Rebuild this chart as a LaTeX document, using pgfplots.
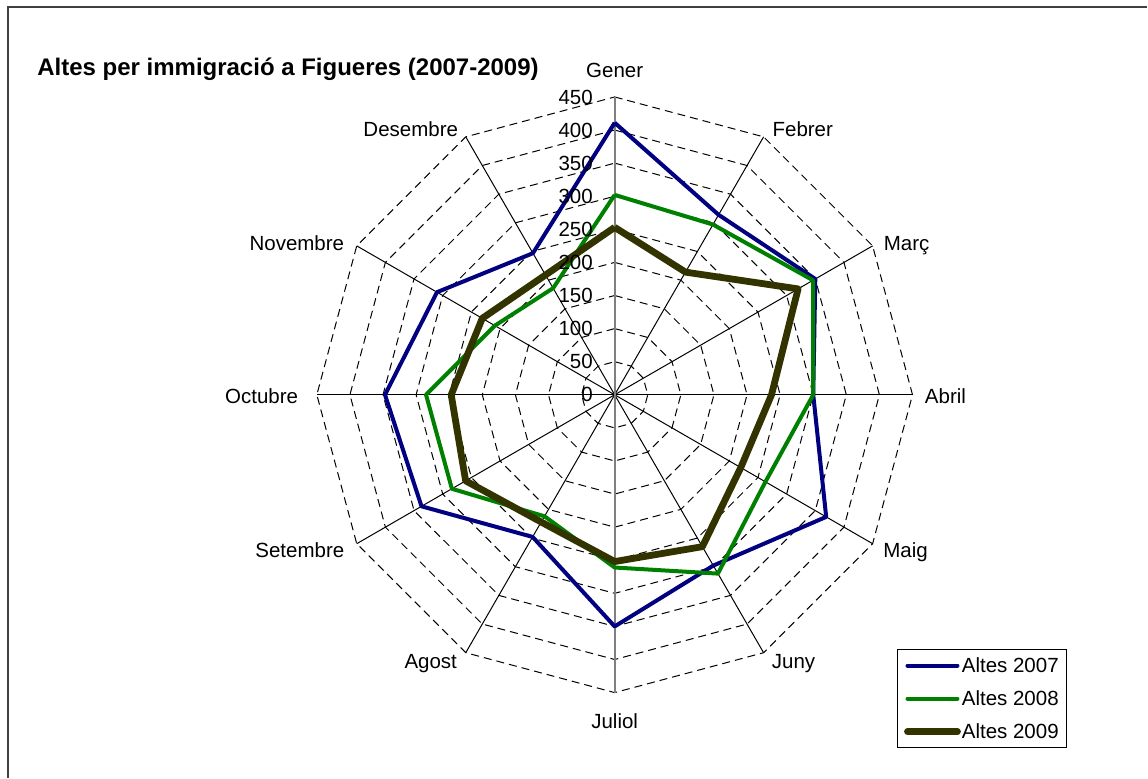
\documentclass[border=0pt]{standalone}
\usepackage{fontspec}
\setmainfont{Liberation Sans}
\usepackage{pgfplots}
\pgfplotsset{compat=1.18}
\usepgfplotslibrary{polar}
\definecolor{c07}{RGB}{0,0,128}
\definecolor{c08}{RGB}{0,128,0}
\definecolor{c09}{RGB}{51,51,0}
\newcommand{\lbl}{\fontsize{10.25}{12}\selectfont}
\begin{document}
\begin{tikzpicture}
\begin{axis}[
  width=574pt, height=389pt, scale only axis,
  xmin=-928.7, xmax=804.9, ymin=-578.4, ymax=596.5,
  hide axis, clip=false,
  legend cell align=left,
  legend image code/.code={\draw[#1, line cap=round] (0pt,0pt) -- (25pt,0pt);},
  legend style={at={(rel axis cs:0.7814,0.1658)}, anchor=north west,
    draw=black, line width=0.5pt, font=\lbl,
    inner xsep=3.5pt, inner ysep=4pt, row sep=8.1pt,
    nodes={inner sep=0.5pt, text height=7.4pt, text depth=0pt}},
]
% frame and bounding box
\path (rel axis cs:0,0) rectangle (rel axis cs:1,1);
\draw[black!75, line width=0.6pt] (axis cs:-916.6,-578.4) -- (axis cs:-916.6,585.9) -- (axis cs:804.9,585.9);
% dashed polygon grid
\pgfplotsinvokeforeach{50,100,150,200,250,300,350,400,450}{
  \addplot[forget plot, black, line width=0.5pt, dash pattern=on 4pt off 2.5pt, data cs=polar]
    coordinates {(90,#1)(60,#1)(30,#1)(0,#1)(-30,#1)(-60,#1)(-90,#1)(-120,#1)(-150,#1)(-180,#1)(-210,#1)(-240,#1)(-270,#1)};
}
% spokes
\pgfplotsinvokeforeach{60,30,0,-30,-60,-120,-150,-180,-210,-240}{
  \addplot[forget plot, black, line width=0.5pt, data cs=polar] coordinates {(#1,0)(#1,450)};
}
\addplot[forget plot, black!50, line width=0.9pt] coordinates {(0,-450)(0,450)};
% data
\addplot[c07, line width=2pt, line join=round, data cs=polar] coordinates {
  (90,411)(60,314)(30,350)(0,300)(-30,369)(-60,298)(-90,350)(-120,248)(-150,337)(-180,347)(-210,310)(-240,247)(-270,411)};
\addlegendentry{Altes 2007}
\addplot[c08, line width=2pt, line join=round, data cs=polar] coordinates {
  (90,302)(60,297)(30,346)(0,300)(-30,263)(-60,312)(-90,261)(-120,212)(-150,284)(-180,285)(-210,209)(-240,186)(-270,302)};
\addlegendentry{Altes 2008}
\addplot[c09, line width=3.4pt, line join=round, data cs=polar] coordinates {
  (90,253)(60,214)(30,320)(0,237)(-30,220)(-60,265)(-90,252)(-120,222)(-150,260)(-180,247)(-210,231)(-240,209)(-270,253)};
\addlegendentry{Altes 2009}
% value labels
\pgfplotsinvokeforeach{0,50,100,150,200,250,300,350,400,450}{
  \node[anchor=east, inner sep=0pt, font=\lbl] at (axis cs:-32.5,#1) {#1};
}
% month labels
\begin{scope}[every node/.style={anchor=base, inner sep=0pt, font=\lbl}]
\node at (axis cs:0,479.8) {Gener};
\node at (axis cs:284.2,390.1) {Febrer};
\node at (axis cs:441.0,218.5) {Març};
\node at (axis cs:499.8,-12.5) {Abril};
\node at (axis cs:439.4,-246.6) {Maig};
\node at (axis cs:270.3,-414.2) {Juny};
\node at (axis cs:0,-504.8) {Juliol};
\node at (axis cs:-277.9,-414.2) {Agost};
\node at (axis cs:-475.7,-246.6) {Setembre};
\node at (axis cs:-533.5,-12.5) {Octubre};
\node at (axis cs:-480.2,218.5) {Novembre};
\node at (axis cs:-308.1,390.1) {Desembre};
\end{scope}
\node[anchor=base west, inner sep=0pt, font=\fontsize{12}{14}\selectfont\bfseries] at (axis cs:-872.8,481.7) {Altes per immigració a Figueres (2007-2009)};
\end{axis}
\end{tikzpicture}
\end{document}
